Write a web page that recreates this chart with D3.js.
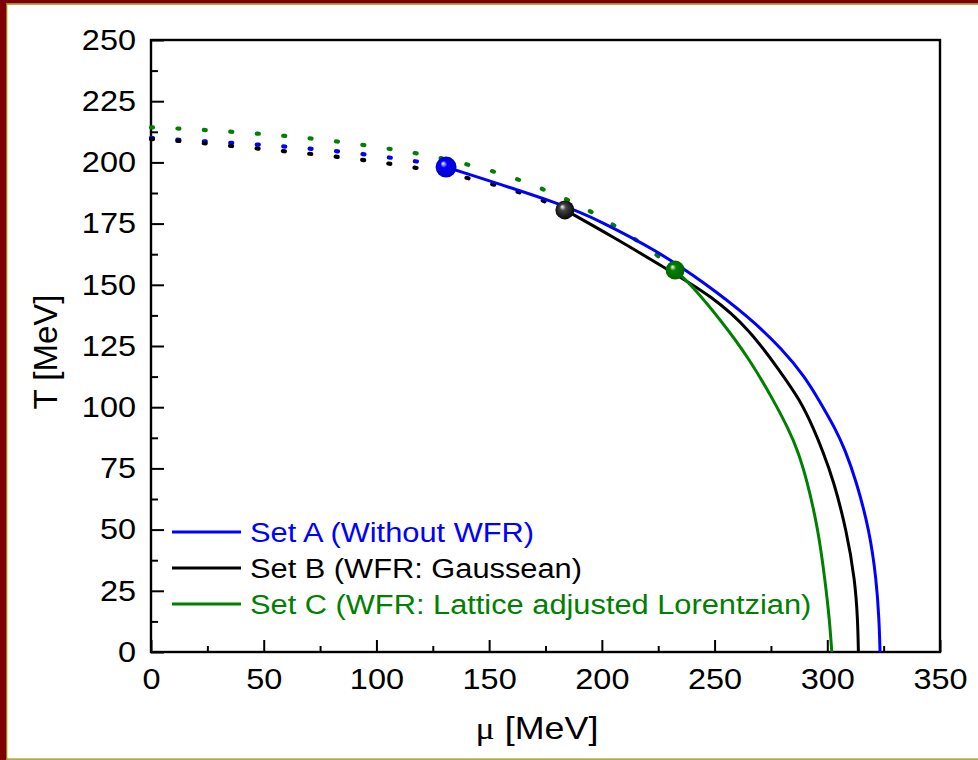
<!DOCTYPE html>
<html>
<head>
<meta charset="utf-8">
<script src="https://cdn.jsdelivr.net/npm/d3@7"></script>
<style>
  html, body { margin: 0; padding: 0; background: #fff; }
  svg { display: block; }
</style>
</head>
<body>
<svg width="978" height="760"></svg>
<script>
// critical end point lines (mu, T in MeV)
const setNames = ["Set A (Without WFR)", "Set B (WFR: Gaussean)", "Set C (WFR: Lattice adjusted Lorentzian)"];
const setColors = ["#0000ff", "#000000", "#008000"];

const dottedA = [[0, 210], [12.4, 209.2], [47.5, 207.4], [82.5, 204.8], [118, 200.6], [131, 198.1]];
const dottedB = [[0, 209.5], [12.4, 208.9], [47.5, 205.6], [82.5, 202.5], [118, 198], [141, 193.6],
  [153, 190.8], [165, 187.4], [176.6, 183.5], [183.6, 180.6]];
const dottedC = [[0, 214.3], [12.4, 213.9], [47.5, 211.9], [82.5, 208.9], [118, 203.8], [129, 201.7],
  [141.5, 198.9], [153.4, 196], [165, 192.4], [176.6, 188], [188.5, 183.3], [200, 177.4],
  [211.6, 170.7], [223.6, 162.9], [232.5, 156]];

const solidA = [[130.9, 198.1], [183.7, 182.6], [199.6, 175.8], [224, 164.2], [245.7, 150.7],
  [265.3, 136.8], [280.4, 123.4], [290.1, 112.3], [296.3, 102.9], [303.9, 90.7], [307.9, 82.5],
  [312.7, 70.3], [318.7, 49.8], [321.8, 29.4], [323, 13], [323.4, 0]];
const solidB = [[183.6, 180.6], [204.9, 169.6], [227.1, 157.4], [249.3, 145.1], [265.7, 131.5],
  [278.6, 115.2], [288, 102.9], [294.2, 90.7], [297.8, 82.5], [302.7, 70.3], [308.5, 49.8],
  [312.3, 29.4], [313.5, 13.1], [313.8, 0]];
const solidC = [[232.5, 156], [239.1, 150.6], [253.9, 134.3], [265.7, 119.3], [276.1, 102.9],
  [283, 90.7], [286.8, 82.5], [291, 70.3], [296, 49.8], [299, 29.4], [301, 13.1], [302, 0]];

const cep = [[130.9, 198.1], [183.6, 180.6], [232.5, 156]];

const xTicks = [0, 50, 100, 150, 200, 250, 300, 350];
const xMinor = [25, 75, 125, 175, 225, 275, 325];
const yTicks = [0, 25, 50, 75, 100, 125, 150, 175, 200, 225, 250];
const yMinor = [12.5, 37.5, 62.5, 87.5, 112.5, 137.5, 162.5, 187.5, 212.5, 237.5];

const svg = d3.select("svg");
const font = "Arial, 'Liberation Sans', sans-serif";
const plotLeft = 151, plotRight = 940, plotTop = 40, plotBottom = 652;

// frame round the picture
svg.append("rect").attr("x", 0).attr("y", 0).attr("width", 978).attr("height", 3.5).attr("fill", "#800000");
svg.append("rect").attr("x", 0).attr("y", 0).attr("width", 6).attr("height", 760).attr("fill", "#800000");
svg.append("rect").attr("x", 6).attr("y", 3.5).attr("width", 972).attr("height", 1.2).attr("fill", "#8a8a00");
svg.append("rect").attr("x", 6).attr("y", 3.5).attr("width", 1.3).attr("height", 756).attr("fill", "#8a8a00");
svg.append("rect").attr("x", 6).attr("y", 758.5).attr("width", 972).attr("height", 1.2).attr("fill", "#8a8a00");

const x = d3.scaleLinear().domain([0, 350]).range([plotLeft, plotRight]);
const y = d3.scaleLinear().domain([0, 250]).range([plotBottom, plotTop]);

// spheres
const defs = svg.append("defs");
setColors.forEach((c, i) => {
  const g = defs.append("radialGradient").attr("id", "ball" + i)
    .attr("cx", "50%").attr("cy", "50%").attr("r", "55%").attr("fx", "35%").attr("fy", "32%");
  g.append("stop").attr("offset", "0%").attr("stop-color", "#ffffff");
  g.append("stop").attr("offset", "30%").attr("stop-color", i === 1 ? "#444" : c);
  g.append("stop").attr("offset", "100%").attr("stop-color", d3.color(c).darker(i === 1 ? 0 : 0.8));
});

// axes, ticks inward on bottom and left
const xAxis = svg.append("g").attr("transform", `translate(0,${plotBottom})`)
  .call(d3.axisBottom(x).tickValues(xTicks).tickSize(-12).tickSizeOuter(0).tickPadding(16));
svg.append("g").attr("transform", `translate(0,${plotBottom})`)
  .call(d3.axisBottom(x).tickValues(xMinor).tickSize(-6).tickSizeOuter(0).tickFormat(""));
const yAxis = svg.append("g").attr("transform", `translate(${plotLeft},0)`)
  .call(d3.axisLeft(y).tickValues(yTicks).tickSize(-13).tickSizeOuter(0).tickPadding(13.4));
svg.append("g").attr("transform", `translate(${plotLeft},0)`)
  .call(d3.axisLeft(y).tickValues(yMinor).tickSize(-7).tickSizeOuter(0).tickFormat(""));

svg.selectAll(".domain").remove();
svg.selectAll(".tick line").attr("stroke", "#000").attr("stroke-width", 2);
svg.selectAll(".tick text")
  .attr("font-family", font).attr("font-size", 29).attr("fill", "#000")
  .attr("transform", "scale(1.12,1)");
xAxis.selectAll(".tick text").attr("dy", "0.71em");

svg.append("rect")
  .attr("x", plotLeft).attr("y", plotTop).attr("width", plotRight - plotLeft).attr("height", plotBottom - plotTop)
  .attr("fill", "none").attr("stroke", "#000").attr("stroke-width", 2.4);

// axis titles
svg.append("text")
  .attr("transform", "translate(57,352) rotate(-90)")
  .attr("text-anchor", "middle")
  .attr("font-family", font).attr("font-size", 33)
  .text("T [MeV]");
const xt = svg.append("text")
  .attr("transform", "translate(537,739) scale(1.12,1)")
  .attr("text-anchor", "middle")
  .attr("font-family", font).attr("font-size", 32);
xt.append("tspan").attr("font-family", "'Liberation Serif', 'Times New Roman', serif").text("\u03bc");
xt.append("tspan").text(" [MeV]");

const line = d3.line().x(d => x(d[0])).y(d => y(d[1])).curve(d3.curveBasis);

const dotted = [dottedA, dottedB, dottedC];
const solid = [solidA, solidB, solidC];

svg.selectAll("path.dotted")
  .data(dotted)
  .enter()
  .append("path")
  .attr("class", "dotted")
  .attr("d", line)
  .attr("fill", "none")
  .attr("stroke", (d, i) => setColors[i])
  .attr("stroke-width", 4.2)
  .attr("stroke-linecap", "round")
  .attr("stroke-dasharray", "2 24.5");

svg.selectAll("path.solid")
  .data(solid)
  .enter()
  .append("path")
  .attr("class", "solid")
  .attr("d", line)
  .attr("fill", "none")
  .attr("stroke", (d, i) => setColors[i])
  .attr("stroke-width", 3);

svg.selectAll("circle.cep")
  .data(cep)
  .enter()
  .append("circle")
  .attr("class", "cep")
  .attr("cx", d => x(d[0]))
  .attr("cy", d => y(d[1]))
  .attr("r", (d, i) => i === 0 ? 10.5 : 9.5)
  .attr("fill", (d, i) => `url(#ball${i})`);

// legend
const legend = svg.append("g");
setNames.forEach((name, i) => {
  const ly = 532 + i * 36;
  legend.append("line")
    .attr("x1", 172).attr("x2", 241).attr("y1", ly).attr("y2", ly)
    .attr("stroke", setColors[i]).attr("stroke-width", 3);
  legend.append("text")
    .attr("transform", `translate(250,${ly}) scale(1.1,1)`)
    .attr("dy", "0.36em")
    .attr("font-family", font).attr("font-size", 28)
    .attr("fill", setColors[i])
    .text(name);
});
</script>
</body>
</html>
